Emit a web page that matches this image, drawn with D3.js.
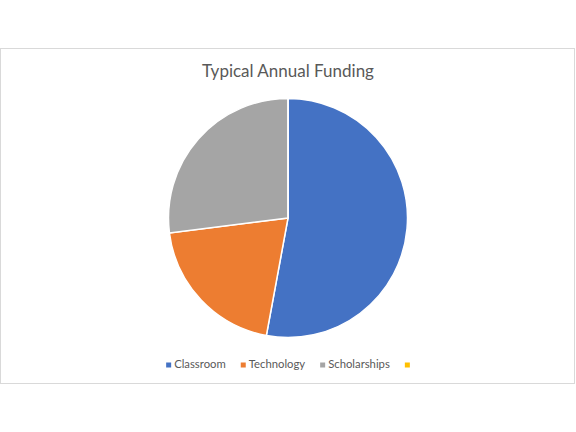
<!DOCTYPE html>
<html>
<head>
<meta charset="utf-8">
<script src="https://cdn.jsdelivr.net/npm/d3@7"></script>
<style>
  body { margin: 0; background: #fff; }
  text { font-family: Lato, "Open Sans", sans-serif; }
</style>
</head>
<body>
<div id="chart"></div>
<script>
var w = 576;
var h = 432;

// data
var categories = ["Classroom", "Technology", "Scholarships", ""];
var values = [52.9, 20.1, 27.0, 0];
var colors = ["#4472C4", "#ED7D31", "#A5A5A5", "#FFC000"];
var title = "Typical Annual Funding";

var svg = d3.select("#chart")
  .append("svg")
  .attr("width", w)
  .attr("height", h);

// chart area border
svg.append("rect")
  .attr("x", 0.5)
  .attr("y", 48.5)
  .attr("width", 574)
  .attr("height", 335)
  .attr("fill", "#fff")
  .attr("stroke", "#d9d9d9");

svg.append("text")
  .attr("x", 288)
  .attr("y", 77)
  .attr("text-anchor", "middle")
  .style("font-size", "17px")
  .style("fill", "#595959")
  .text(title);

var radius = 119.5;
var pie = d3.pie().sort(null).value(function(d) { return d; });
var arc = d3.arc().innerRadius(0).outerRadius(radius);

var g = svg.append("g")
  .attr("transform", "translate(288,218)");

g.selectAll("path")
  .data(pie(values))
  .enter()
  .append("path")
  .attr("d", arc)
  .attr("fill", function(d, i) { return colors[i]; })
  .attr("stroke", "#fff")
  .attr("stroke-width", 1.5);

// legend, laid out left to right then centered
var legend = svg.append("g");
var x = 0;
categories.forEach(function(c, i) {
  var item = legend.append("g").attr("transform", "translate(" + x + ",0)");
  item.append("rect")
    .attr("x", 0)
    .attr("y", -5.5)
    .attr("width", 5)
    .attr("height", 5)
    .attr("fill", colors[i]);
  var t = item.append("text")
    .attr("x", 8)
    .attr("y", 0)
    .style("font-size", "11.3px")
    .style("fill", "#595959")
    .text(c);
  x += 8 + t.node().getComputedTextLength() + 15;
});
var bb = legend.node().getBBox();
legend.attr("transform", "translate(" + (288 - bb.width / 2 - bb.x) + ",368)");
</script>
</body>
</html>
